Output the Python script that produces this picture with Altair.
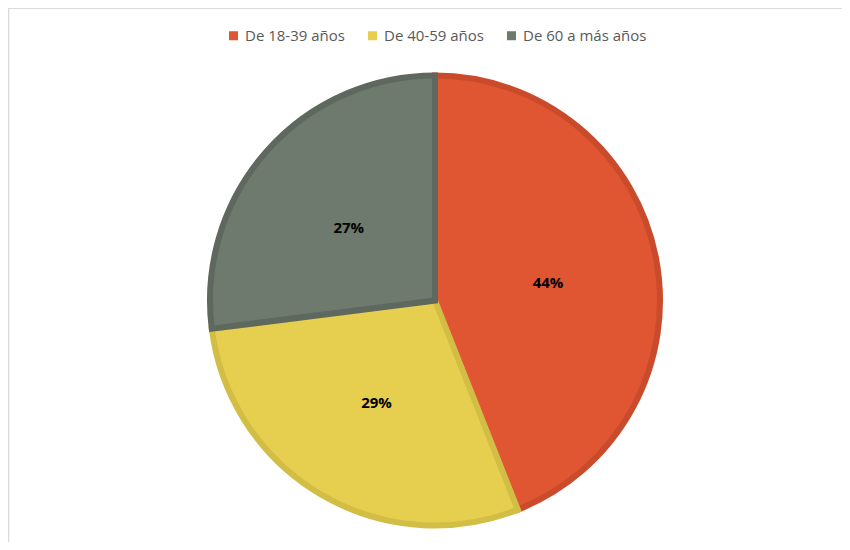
import altair as alt
import pandas as pd

categories = ["De 18-39 años", "De 40-59 años", "De 60 a más años"]
values = [44, 29, 27]
labels = ["44%", "29%", "27%"]
order_idx = [0, 1, 2]

fill_colors = ["#E05532", "#E6CF4F", "#6E7A6E"]
stroke_colors = ["#CA4B2C", "#D2BD45", "#5E685E"]

df = pd.DataFrame({"cat": categories, "value": values, "label": labels, "idx": order_idx})

W, H = 834, 534
CX, CY = 427, 292.5

base = alt.Chart(df)

arcs = base.mark_arc(outerRadius=225, strokeWidth=6, strokeJoin="miter").encode(
    theta=alt.Theta("value:Q", stack=True),
    order=alt.Order("idx:O"),
    color=alt.Color(
        "cat:N",
        sort=categories,
        scale=alt.Scale(domain=categories, range=fill_colors),
        legend=alt.Legend(
            title=None,
            orient="none",
            direction="horizontal",
            legendX=218,
            legendY=20,
            symbolType="square",
            symbolSize=81,
            symbolStrokeWidth=0,
            labelFont="Open Sans",
            labelFontSize=15,
            labelColor="#595959",
            labelOffset=4,
            columnPadding=20,
            padding=0,
            labelLimit=300,
        ),
    ),
    stroke=alt.Stroke(
        "cat:N",
        sort=categories,
        scale=alt.Scale(domain=categories, range=stroke_colors),
        legend=None,
    ),
    x=alt.value(CX),
    y=alt.value(CY),
)

text = base.mark_text(
    radius=115, dy=4, font="Open Sans", fontSize=15, fontWeight="bold", color="#000000"
).encode(
    theta=alt.Theta("value:Q", stack=True),
    order=alt.Order("idx:O"),
    text="label:N",
    x=alt.value(CX),
    y=alt.value(CY),
)

border_df = pd.DataFrame({"a": [0]})
left_rule = alt.Chart(border_df).mark_rule(color="#D9D9D9", strokeWidth=1.5).encode(
    x=alt.value(0.5), y=alt.value(0), y2=alt.value(H)
)
top_rule = alt.Chart(border_df).mark_rule(color="#D9D9D9", strokeWidth=1.5).encode(
    y=alt.value(0), x=alt.value(0), x2=alt.value(W)
)

chart = (
    alt.layer(left_rule, top_rule, arcs, text)
    .properties(width=W, height=H, padding=0, autosize="none")
    .configure_view(stroke=None)
    .configure(background="#FFFFFF")
)

chart.save("out.html", embed_options={"renderer": "svg", "actions": False})
